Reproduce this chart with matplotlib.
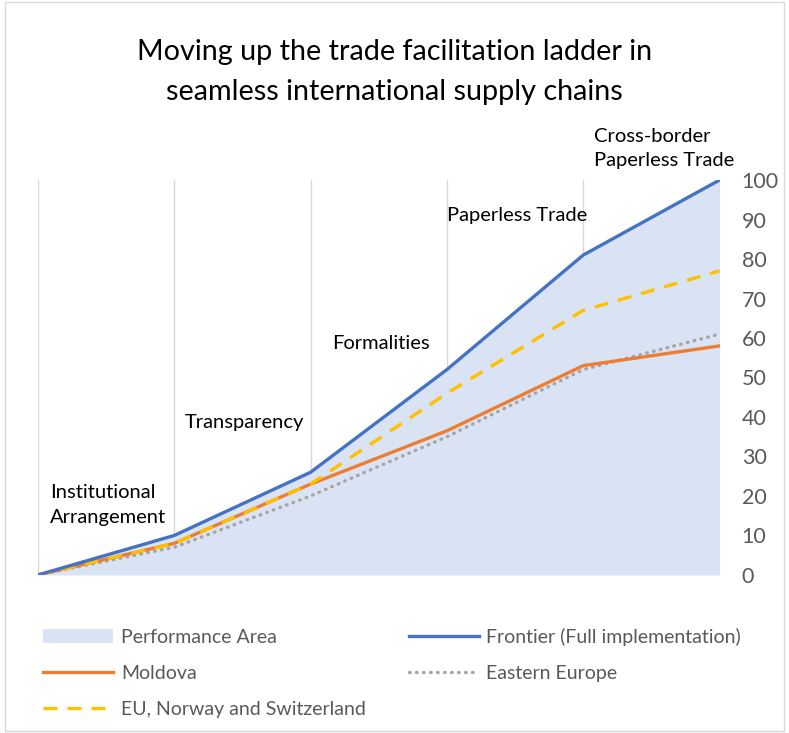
import matplotlib.pyplot as plt
from matplotlib.patches import Rectangle

plt.rcParams['font.family'] = ['Lato', 'DejaVu Sans']

# Daten
stages = ['Institutional\nArrangement', 'Transparency', 'Formalities',
          'Paperless Trade', 'Cross-border\nPaperless Trade']
frontier = [0, 10, 26, 52, 81, 100]
moldova = [0, 8, 23, 36.5, 53, 58]
eastern_europe = [0, 7, 20, 35, 52, 61]
eu_norway_ch = [0, 8, 23, 46, 67, 77]

# Position der Stufen-Beschriftungen (x, y in Datenkoordinaten)
label_pos = [(0.09, 17.7), (1.08, 38.7), (2.16, 58.7), (3.0, 91), (4.08, 108)]

x = list(range(len(frontier)))

fig = plt.figure(figsize=(7.89, 7.33), dpi=100)
ax = fig.add_axes([0.048, 0.2156, 0.864, 0.5388])

area = ax.fill_between(x, 0, frontier, color='#DAE3F3', lw=0, label='Performance Area', zorder=1)
l1, = ax.plot(x, frontier, color='#4472C4', lw=2.4, label='Frontier (Full implementation)', zorder=4)
l2, = ax.plot(x, moldova, color='#ED7D31', lw=2.4, label='Moldova', zorder=3)
l3, = ax.plot(x, eastern_europe, color='#A5A5A5', lw=2.4, ls=(0, (0.2, 1.9)),
              label='Eastern Europe', zorder=2, dash_capstyle='round')
l4, = ax.plot(x, eu_norway_ch, color='#FFC000', lw=2.4, ls=(0, (4.2, 3.0)),
              label='EU, Norway and Switzerland', zorder=3)

# vertikale Gitterlinien
for xi in x[:-1]:
    ax.axvline(xi, color='#D9D9D9', lw=1, zorder=0)

for (tx, ty), s in zip(label_pos, stages):
    ax.text(tx, ty, s, fontsize=14.5, ha='left', va='center', linespacing=1.55, color='black')

ax.set_xlim(0, 5)
ax.set_ylim(0, 100)
ax.set_yticks(range(0, 101, 10))
ax.yaxis.tick_right()
ax.tick_params(axis='y', length=0, labelsize=15.5, labelcolor='#595959', pad=16)
ax.set_xticks([])
for sp in ax.spines.values():
    sp.set_visible(False)

fig.text(0.5, 0.902, 'Moving up the trade facilitation ladder in\nseamless international supply chains',
         ha='center', va='center', fontsize=20.7, linespacing=1.68)

fig.legend([area, l2, l4, l1, l3],
           ['Performance Area', 'Moldova', 'EU, Norway and Switzerland',
            'Frontier (Full implementation)', 'Eastern Europe'],
           ncol=2, loc='upper left', bbox_to_anchor=(0.045, 0.154), frameon=False,
           fontsize=14, labelcolor='#595959', handlelength=3.6, handletextpad=0.4,
           columnspacing=2.2, labelspacing=0.98, borderaxespad=0)

fig.patches.append(Rectangle((0.006, 0.003), 0.988, 0.994, transform=fig.transFigure,
                             fill=False, edgecolor='#D9D9D9', lw=1))

fig.savefig('out.png', dpi=100)
